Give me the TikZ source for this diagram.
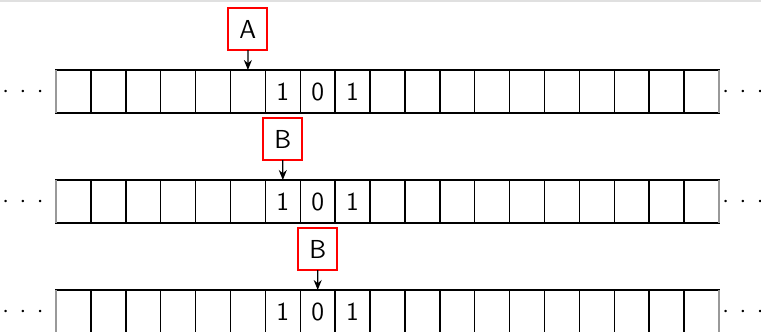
\documentclass[tikz,border=0pt]{standalone}
\usetikzlibrary{arrows.meta}
\begin{document}
\begin{tikzpicture}[x=0.5pt,y=-0.5pt,
  txt/.style={font=\sffamily\fontsize{13}{15}\selectfont},
  cell/.style={txt,draw=black,line width=0.75pt,minimum width=17.45pt,minimum height=21.5pt,inner sep=0pt,outer sep=0pt},
  head/.style={txt,draw=red,line width=1pt,minimum width=19.5pt,minimum height=21pt,inner sep=0pt,outer sep=0pt},
  ptr/.style={-{Stealth[length=5pt,width=4pt]},line width=0.6pt},
  dots/.style={txt,inner sep=0pt},
  edge/.style={draw=black!40,line width=0.75pt}
]
\useasboundingbox (0,0) rectangle (761,333);
\clip (0,0) rectangle (761,331.5);
\draw[black!12,line width=1pt] (0,0.5) -- (761,0.5);
\foreach \r/\t in {1/70,2/180,3/290}{
  \foreach \i in {0,...,18}{
    \node[cell] (r\r c\i) at ({56+34.895*(\i+0.5)},{\t+21.5}) {\ifcase\i\or\or\or\or\or\or 1\or 0\or 1\fi};
  }
  \draw[edge] (r\r c0.north west) -- (r\r c0.south west);
  \draw[edge] (r\r c18.north east) -- (r\r c18.south east);
  \node[dots] (l\r) at (23,{\t+22}) {$\cdot\mkern4mu\cdot\mkern4mu\cdot$};
  \node[dots] (g\r) at (743,{\t+22}) {$\cdot\mkern4mu\cdot\mkern4mu\cdot$};
}
\node[head] (hA) at (247.9,29) {A};
\node[head] (hB1) at (282.8,139) {B};
\node[head] (hB2) at (317.7,249) {B};
\draw[ptr] (hA.south) -- (r1c5.north);
\draw[ptr] (hB1.south) -- (r2c6.north);
\draw[ptr] (hB2.south) -- (r3c7.north);
\end{tikzpicture}
\end{document}
